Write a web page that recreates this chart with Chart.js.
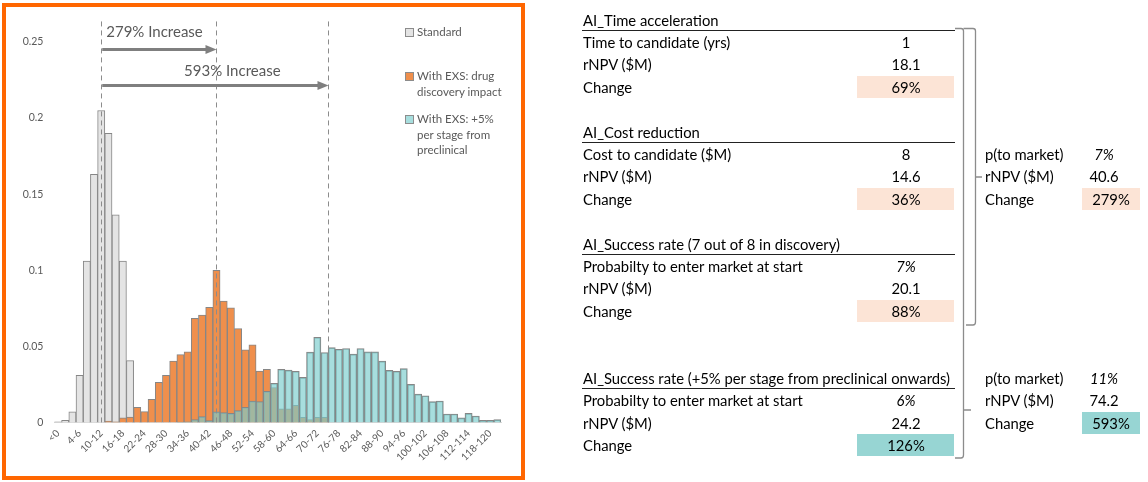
<!DOCTYPE html>
<html>
<head>
<meta charset="utf-8">
<script src="https://cdn.jsdelivr.net/npm/chart.js@4.4.0/dist/chart.umd.min.js"></script>
<style>
  body { margin: 0; background: #fff; width: 1148px; height: 482px; position: relative; overflow: hidden; font-family: Lato, sans-serif; }
  #box { position: absolute; left: 2px; top: 3px; width: 523px; height: 477px; border: 4px solid #FF6600; box-sizing: border-box; }
  #box canvas { position: absolute; left: 0; top: 0; }
  .leg { position: absolute; left: 399px; font-size: 11.5px; line-height: 15.5px; color: #595959; }
  .leg i { position: absolute; left: 0; top: 4px; width: 7px; height: 7px; border: 1px solid #8c8c8c; }
  .leg span { display: block; margin-left: 12px; white-space: nowrap; }
  .cell { position: absolute; font-size: 14.8px; color: #000; white-space: nowrap; line-height: 22px; height: 22px; }
  .hl { position: absolute; height: 22px; }
  .rule { position: absolute; height: 1px; background: #222; }
  svg { position: absolute; left: 0; top: 0; }
</style>
</head>
<body>
<div id="box">
  <canvas id="hist" width="515" height="469"></canvas>
</div>
<svg id="brackets" width="1148" height="482"></svg>
<div id="table"></div>
<script>
// histogram bins (2-unit wide, rNPV $M)
const bins = ['<0', '0-2', '2-4', '4-6', '6-8', '8-10', '10-12', '12-14', '14-16', '16-18',
  '18-20', '20-22', '22-24', '24-26', '26-28', '28-30', '30-32', '32-34', '34-36', '36-38',
  '38-40', '40-42', '42-44', '44-46', '46-48', '48-50', '50-52', '52-54', '54-56', '56-58',
  '58-60', '60-62', '62-64', '64-66', '66-68', '68-70', '70-72', '72-74', '74-76', '76-78',
  '78-80', '80-82', '82-84', '84-86', '86-88', '88-90', '90-92', '92-94', '94-96', '96-98',
  '98-100', '100-102', '102-104', '104-106', '106-108', '108-110', '110-112', '112-114', '114-116', '116-118',
  '118-120', '>120'];

const standard = [0.0005, 0.0015, 0.007, 0.031, 0.106, 0.163, 0.205, 0.190, 0.1365, 0.106,
  0.0407, 0.002, 0.001, 0, 0, 0, 0, 0, 0, 0,
  0, 0, 0, 0, 0, 0, 0, 0, 0, 0,
  0, 0, 0, 0, 0, 0, 0, 0, 0, 0,
  0, 0, 0, 0, 0, 0, 0, 0, 0, 0,
  0, 0, 0, 0, 0, 0, 0, 0, 0, 0,
  0, 0];

const drugDiscovery = [0, 0, 0, 0, 0, 0, 0, 0.001, 0.0005, 0.003,
  0.0035, 0.010, 0.0071, 0.0153, 0.0264, 0.031, 0.0403, 0.0446, 0.0464, 0.0685,
  0.0705, 0.0757, 0.100, 0.0797, 0.0753, 0.0617, 0.0477, 0.051, 0.0338, 0.035,
  0.023, 0.009, 0.009, 0.0113, 0.0034, 0.002, 0.0034, 0.0034, 0, 0,
  0, 0, 0, 0, 0, 0, 0, 0, 0, 0,
  0, 0, 0, 0, 0, 0, 0, 0, 0, 0,
  0, 0];

const perStage = [0, 0, 0, 0, 0, 0, 0, 0, 0, 0,
  0, 0, 0, 0, 0, 0, 0, 0.0003, 0.0005, 0.002,
  0.0039, 0.0012, 0.007, 0.0065, 0.006, 0.0078, 0.010, 0.014, 0.0138, 0.0204,
  0.0258, 0.035, 0.0344, 0.0337, 0.0297, 0.0462, 0.056, 0.046, 0.0492, 0.0481,
  0.0486, 0.0449, 0.0486, 0.0464, 0.0464, 0.0403, 0.0343, 0.0337, 0.0354, 0.0251,
  0.0186, 0.0176, 0.0137, 0.0141, 0.0056, 0.0056, 0.003, 0.006, 0.0043, 0.0014,
  0.0014, 0.0019];

const seriesNames = [['Standard'], ['With EXS: drug', 'discovery impact'], ['With EXS: +5%', 'per stage from', 'preclinical']];
const yTicks = [0, 0.05, 0.1, 0.15, 0.2, 0.25];

// mean rNPV markers (bin index) and the increase labels
const markers = [6, 22, 37.55];
const increases = ['279% Increase', '593% Increase'];

// right-hand summary table
const sectionTitles = ['AI_Time acceleration', 'AI_Cost reduction', 'AI_Success rate (7 out of 8 in discovery)', 'AI_Success rate (+5% per stage from preclinical onwards)'];
const sectionLabels = [
  ['Time to candidate (yrs)', 'rNPV ($M)', 'Change'],
  ['Cost to candidate ($M)', 'rNPV ($M)', 'Change'],
  ['Probabilty to enter market at start', 'rNPV ($M)', 'Change'],
  ['Probabilty to enter market at start', 'rNPV ($M)', 'Change']];
const sectionValues = [['1', '18.1', '69%'], ['8', '14.6', '36%'], ['7%', '20.1', '88%'], ['6%', '24.2', '126%']];
const combinedLabels = ['p(to market)', 'rNPV ($M)', 'Change'];
const combinedValues = [['7%', '40.6', '279%'], ['11%', '74.2', '593%']];

const fills = ['#E4E4E4', '#EF8F4C', 'rgba(120,205,205,0.65)'];
const peach = '#FCE4D6', teal = '#97D5D3';

// legend
const box = document.getElementById('box');
const legTops = [17, 61, 104];
seriesNames.forEach((lines, i) => {
  const d = document.createElement('div');
  d.className = 'leg';
  d.style.top = legTops[i] + 'px';
  d.innerHTML = '<i style="background:' + fills[i] + '"></i>' + lines.map(l => '<span>' + l + '</span>').join('');
  box.appendChild(d);
});

const annotate = {
  id: 'annotate',
  afterDatasetsDraw(chart) {
    const { ctx, scales: { x, y } } = chart;
    const base = y.getPixelForValue(0);
    ctx.save();
    ctx.strokeStyle = '#8c8c8c';
    ctx.lineWidth = 1;
    ctx.setLineDash([5, 4]);
    markers.forEach(m => {
      const px = Math.round(x.getPixelForValue(m)) + 0.5;
      ctx.beginPath();
      ctx.moveTo(px, y.getPixelForValue(0.2635));
      ctx.lineTo(px, base);
      ctx.stroke();
    });
    ctx.setLineDash([]);
    const arrowY = [0.245, 0.2215];
    const textY = [0.2565, 0.231];
    const textX = [6.7, 17.5];
    increases.forEach((t, i) => {
      const x0 = x.getPixelForValue(markers[0]) + 1;
      const x1 = x.getPixelForValue(markers[i + 1]);
      const py = y.getPixelForValue(arrowY[i]);
      ctx.strokeStyle = ctx.fillStyle = '#7f7f7f';
      ctx.lineWidth = 3;
      ctx.beginPath();
      ctx.moveTo(x0, py);
      ctx.lineTo(x1 - 8, py);
      ctx.stroke();
      ctx.beginPath();
      ctx.moveTo(x1, py);
      ctx.lineTo(x1 - 11, py - 4.5);
      ctx.lineTo(x1 - 11, py + 4.5);
      ctx.closePath();
      ctx.fill();
      ctx.fillStyle = '#595959';
      ctx.font = '15px Lato';
      ctx.textBaseline = 'middle';
      ctx.fillText(t, x.getPixelForValue(textX[i]), y.getPixelForValue(textY[i]));
    });
    ctx.restore();
  }
};

const barStyle = { borderColor: '#868686', borderWidth: 1, barPercentage: 1, categoryPercentage: 1, grouped: false };

new Chart(document.getElementById('hist').getContext('2d'), {
  type: 'bar',
  data: {
    labels: bins,
    datasets: [
      Object.assign({ label: seriesNames[0].join(' '), data: standard, backgroundColor: fills[0], order: 3 }, barStyle),
      Object.assign({ label: seriesNames[1].join(' '), data: drugDiscovery, backgroundColor: fills[1], order: 2 }, barStyle),
      Object.assign({ label: seriesNames[2].join(' '), data: perStage, backgroundColor: fills[2], order: 1 }, barStyle)
    ]
  },
  options: {
    responsive: false,
    animation: false,
    layout: { padding: { top: 35, right: 20, left: 0, bottom: 0 } },
    plugins: { legend: { display: false }, tooltip: { enabled: false } },
    scales: {
      x: {
        grid: { display: false, drawTicks: false },
        border: { color: '#d9d9d9' },
        ticks: {
          autoSkip: false, minRotation: 45, maxRotation: 45, padding: 5,
          color: '#595959', font: { family: 'Lato', size: 10 },
          callback: (v, i) => (i % 3 === 0 ? bins[i] : '')
        },
        afterFit: s => { s.height = 53.5; }
      },
      y: {
        min: 0, max: 0.25,
        grid: { display: false, drawTicks: false },
        border: { display: false },
        afterBuildTicks: s => { s.ticks = yTicks.map(v => ({ value: v })); },
        ticks: { padding: 11, color: '#595959', font: { family: 'Lato', size: 10.5 }, callback: v => String(v) },
        afterFit: s => { s.width = 48.4; }
      }
    }
  },
  plugins: [annotate]
});

// summary table
const table = document.getElementById('table');
const pitch = 22.4, firstRow = 19.5;
const rowY = r => firstRow + pitch * r;
function cell(text, left, r, opts) {
  const d = document.createElement('div');
  d.className = 'cell';
  d.textContent = text;
  d.style.top = (rowY(r) - 11) + 'px';
  if (opts && opts.center != null) {
    d.style.left = (opts.center - 60) + 'px';
    d.style.width = '120px';
    d.style.textAlign = 'center';
  } else {
    d.style.left = left + 'px';
  }
  if (opts && opts.italic) d.style.fontStyle = 'italic';
  table.appendChild(d);
}
function highlight(x0, x1, r, color) {
  const d = document.createElement('div');
  d.className = 'hl';
  d.style.left = x0 + 'px';
  d.style.width = (x1 - x0) + 'px';
  d.style.top = (rowY(r) - 11) + 'px';
  d.style.background = color;
  table.appendChild(d);
}
const sectionRows = [0, 5, 10, 16];
const sectionFill = [peach, peach, peach, teal];
sectionTitles.forEach((t, s) => {
  const r = sectionRows[s];
  highlight(857, 954, r + 3, sectionFill[s]);
  cell(t, 583, r);
  const rule = document.createElement('div');
  rule.className = 'rule';
  rule.style.left = '582px';
  rule.style.width = '373px';
  rule.style.top = Math.round(rowY(r) + 10) + 'px';
  table.appendChild(rule);
  sectionLabels[s].forEach((l, k) => {
    cell(l, 583, r + 1 + k);
    cell(sectionValues[s][k], 0, r + 1 + k, { center: 906, italic: k === 0 && s >= 2 });
  });
});
const combinedRows = [6, 16];
const combinedFill = [peach, teal];
combinedValues.forEach((vals, c) => {
  const r = combinedRows[c];
  highlight(1082, 1140, r + 2, combinedFill[c]);
  combinedLabels.forEach((l, k) => {
    cell(l, 985, r + k);
    cell(vals[k], 0, r + k, { center: k === 2 ? 1111 : 1104, italic: k === 0 });
  });
});

// grouping brackets
const svg = document.getElementById('brackets');
const paths = [
  'M955,28.5 H961 Q963.5,28.5 963.5,31 V455 Q963.5,458 961,458 H955 M963.5,410 H971',
  'M963.5,28.5 H973 Q975.5,28.5 975.5,31 V322 Q975.5,325 973,325 H966 M975.5,177 H982'
];
paths.forEach(p => {
  const el = document.createElementNS('http://www.w3.org/2000/svg', 'path');
  el.setAttribute('d', p);
  el.setAttribute('fill', 'none');
  el.setAttribute('stroke', '#8c8c8c');
  el.setAttribute('stroke-width', '1.3');
  svg.appendChild(el);
});
</script>
</body>
</html>
